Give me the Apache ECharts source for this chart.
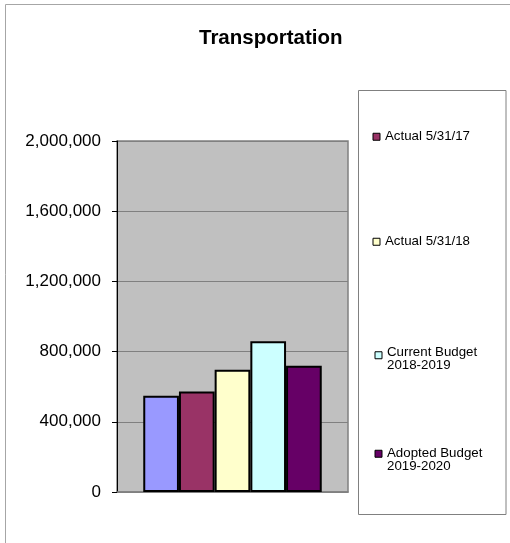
<!DOCTYPE html>
<html>
<head>
<meta charset="utf-8">
<style>
  html, body { margin: 0; padding: 0; background: #fff; }
  #chart { width: 510px; height: 543px; }
</style>
<script src="https://cdn.jsdelivr.net/npm/echarts@6/dist/echarts.min.js"></script>
</head>
<body>
<div id="chart"></div>
<script>
// Transportation spending by period
const categories = ['Transportation'];
const seriesNames = [
  'Actual 5/31/16',
  'Actual 5/31/17',
  'Actual 5/31/18',
  'Current Budget 2018-2019',
  'Adopted Budget 2019-2020'
];
const seriesValues = [548000, 573000, 697000, 859000, 720000];
const seriesColors = ['#9999FF', '#993366', '#FFFFCC', '#CCFFFF', '#660066'];
const yTicks = { min: 0, max: 2000000, interval: 400000 };

const font = 'Liberation Sans, Arial, sans-serif';

const chart = echarts.init(document.getElementById('chart'), null, { renderer: 'canvas' });

const series = seriesNames.map((name, i) => ({
  name: name,
  type: 'bar',
  data: [seriesValues[i]],
  barWidth: 35.7,
  barGap: '0%',
  itemStyle: { color: seriesColors[i], borderColor: '#000', borderWidth: 2 },
  emphasis: { disabled: true },
  animation: false
}));

// one legend block per entry, spaced down the side panel;
// a blank spacer line nudges the two-line labels relative to their marker
const lineH = 13.5;
const legendSpots = [
  { name: seriesNames[1], left: 372.5, top: 130, lines: ['Actual 5/31/17'], spacer: 0 },
  { name: seriesNames[2], left: 372.5, top: 235, lines: ['Actual 5/31/18'], spacer: 0 },
  { name: seriesNames[3], left: 374.5, top: 338, lines: ['Current Budget', '2018-2019'], spacer: 7.5 },
  { name: seriesNames[4], left: 374.5, top: 434, lines: ['Adopted Budget', '2019-2020'], spacer: 12.5 }
];

const legends = legendSpots.map(s => {
  let label = s.lines.map(t => '{t|' + t + '}').join('\n');
  if (s.spacer) label = '{sp| }\n' + label;
  return {
    data: [s.name],
    left: s.left,
    top: s.top,
    padding: 0,
    orient: 'vertical',
    icon: 'rect',
    itemWidth: 7,
    itemHeight: 7,
    selectedMode: false,
    itemStyle: { borderColor: '#000', borderWidth: 1 },
    formatter: () => label,
    textStyle: {
      fontFamily: font,
      fontSize: 13.3,
      color: '#000',
      lineHeight: lineH,
      rich: {
        t: { fontFamily: font, fontSize: 13.3, color: '#000', lineHeight: lineH },
        sp: { fontSize: 2, lineHeight: s.spacer || 1, height: s.spacer || 1 }
      }
    }
  };
});

chart.setOption({
  animation: false,
  backgroundColor: '#fff',
  title: {
    text: 'Transportation',
    left: 199,
    top: 28,
    padding: 0,
    textStyle: { fontFamily: font, fontSize: 20.5, fontWeight: 'bold', color: '#000' }
  },
  graphic: [
    {
      type: 'rect',
      shape: { x: 5.5, y: 4.5, width: 700, height: 700 },
      style: { fill: 'none', stroke: '#a6a6a6', lineWidth: 1 },
      silent: true,
      z: -10
    },
    {
      type: 'rect',
      shape: { x: 358.5, y: 90.5, width: 147.5, height: 424 },
      style: { fill: '#fff', stroke: '#808080', lineWidth: 1 },
      silent: true,
      z: -5
    }
  ],
  legend: legends,
  grid: {
    left: 117,
    right: 162,
    top: 141,
    bottom: 51,
    show: true,
    backgroundColor: '#C0C0C0',
    borderColor: '#808080',
    borderWidth: 1.5
  },
  xAxis: {
    type: 'category',
    data: categories,
    axisLine: { show: true, lineStyle: { color: '#808080', width: 1.5 } },
    axisTick: { show: false },
    axisLabel: { show: false },
    splitLine: { show: false }
  },
  yAxis: {
    type: 'value',
    min: yTicks.min,
    max: yTicks.max,
    interval: yTicks.interval,
    axisLine: { show: true, lineStyle: { color: '#000', width: 1 } },
    axisTick: { show: true, inside: false, length: 5, lineStyle: { color: '#000' } },
    axisLabel: {
      margin: 16,
      fontFamily: font,
      fontSize: 17,
      color: '#000',
      formatter: v => v.toLocaleString('en-US')
    },
    splitLine: { show: true, lineStyle: { color: '#808080', width: 1 } }
  },
  series: series
});
</script>
</body>
</html>
